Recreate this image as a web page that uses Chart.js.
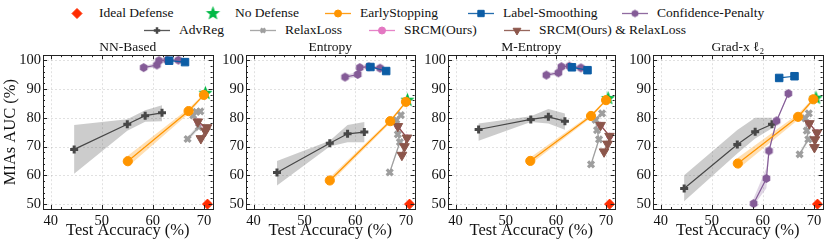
<!DOCTYPE html>
<html>
<head>
<meta charset="utf-8">
<script src="https://cdn.jsdelivr.net/npm/chart.js@4.4.0/dist/chart.umd.min.js"></script>
<style>
    body { margin: 0; background: #fff; width: 830px; height: 243px; position: relative; overflow: hidden;
           font-family: 'Liberation Serif', serif; }
    canvas.panel { position: absolute; top: 37px; }
    .lg { position: absolute; height: 16px; display: flex; align-items: center; font-size: 13.5px;
          white-space: nowrap; color: #111; }
    .lg canvas { margin-right: 9px; }
</style>
</head>
<body>
<div id="legend"></div>
<canvas class="panel" id="c0" width="220" height="206" style="left:0px"></canvas>
<canvas class="panel" id="c1" width="202" height="206" style="left:220px"></canvas>
<canvas class="panel" id="c2" width="200" height="206" style="left:422px"></canvas>
<canvas class="panel" id="c3" width="204" height="206" style="left:626px"></canvas>
<script>
// ---- data ----
const panelTitles = ['NN-Based', 'Entropy', 'M-Entropy', 'Grad-x ℓ₂'];
const xTicks = [40, 50, 60, 70];
const yTicks = [50, 60, 70, 80, 90, 100];

const idealAcc = [70.7];
const idealAuc = [50];

const noDefAcc = [70.3, 70.3, 70.4, 70.4];
const noDefAuc = [88.5, 86.1, 86.7, 86.8];

const esAcc = [[55.1, 67.0, 70.0], [55.0, 66.9, 70.0], [54.9, 67.0, 70.0], [55.1, 66.9, 69.9]];
const esAuc = [[64.9, 82.3, 87.9], [58.2, 78.8, 85.5], [65.0, 80.6, 86.1], [64.1, 80.3, 86.4]];
const esHi = [[66.8, 83.2, 88.3], [59.2, 79.4, 85.9], [66.2, 81.2, 86.5], [66.1, 81.3, 86.9]];
const esLo = [[63.0, 81.4, 87.5], [57.2, 78.2, 85.1], [63.8, 80.0, 85.7], [62.1, 79.3, 85.9]];

const lsAcc = [[63.2, 66.3], [63.0, 66.1], [63.2, 66.3], [63.2, 66.2]];
const lsAuc = [[99.8, 99.3], [97.6, 96.2], [97.5, 96.5], [93.8, 94.4]];

const cpAcc = [[58.2, 60.8, 61.2, 62.8, 65.0], [58.0, 60.5, 60.9, 62.7, 64.9],
               [58.1, 60.5, 61.1, 62.7, 65.0], [58.2, 60.7, 61.2, 62.7, 65.0]];
const cpAuc = [[97.4, 98.3, 99.8, 100.0, 100.0], [94.1, 95.0, 97.4, 97.7, 97.2],
               [94.8, 95.6, 97.7, 97.9, 97.3], [50.2, 58.9, 68.5, 78.9, 88.4]];
const cpHi = [[98.0, 99.0, 100.3, 100.4, 100.4], [94.9, 95.8, 97.9, 98.1, 97.6],
              [95.4, 96.3, 98.1, 98.3, 97.7], [52.0, 62.5, 69.5, 79.5, 88.9]];
const cpLo = [[96.8, 97.5, 99.3, 99.6, 99.6], [93.3, 94.2, 96.9, 97.3, 96.8],
              [94.2, 94.9, 97.3, 97.5, 96.9], [49.5, 55.5, 67.0, 78.3, 87.9]];

const advAcc = [44.6, 55.0, 58.5, 61.8];
const advAuc = [[69.0, 77.7, 80.7, 81.7], [61.0, 71.1, 74.4, 75.0], [75.9, 79.4, 80.3, 78.8], [55.4, 70.7, 75.1, 77.7]];
const advHi = [[77.5, 79.5, 82.6, 84.3], [65.0, 72.0, 77.5, 78.5], [78.0, 80.5, 83.0, 81.5], [60.0, 75.7, 80.0, 80.0]];
const advLo = [[60.5, 75.5, 78.6, 78.8], [56.5, 70.0, 71.5, 71.5], [72.0, 78.5, 78.0, 75.8], [51.0, 67.6, 72.8, 76.3]];

const rlAcc = [[66.8, 69.0, 67.9, 68.5, 69.3], [66.8, 68.8, 68.4, 68.1, 69.0],
               [67.0, 68.6, 68.2, 67.9, 69.2], [67.2, 68.9, 68.6, 68.3, 69.0]];
const rlAuc = [[72.6, 76.8, 80.8, 82.0, 82.2], [61.0, 71.5, 74.2, 79.2, 80.9],
               [63.8, 72.5, 75.7, 79.2, 81.5], [67.3, 72.5, 75.5, 79.8, 81.5]];

const srcmAcc = [[68.8, 70.4], [68.4, 70.2], [68.9, 70.7], [69.1, 70.6]];
const srcmAuc = [[78.6, 76.2], [77.0, 73.0], [77.4, 73.6], [78.0, 74.8]];

const srAcc = [[68.8, 70.6, 70.3, 69.4], [68.4, 70.2, 69.7, 69.2], [68.9, 70.7, 70.3, 69.6], [69.1, 70.6, 70.2, 70.1]];
const srAuc = [[78.6, 76.6, 75.4, 72.8], [77.0, 73.0, 70.0, 67.0], [77.4, 73.6, 70.9, 68.2], [78.0, 74.8, 72.4, 69.7]];

// ---- style ----
const FONT = "'Liberation Serif', serif";
const COL = {
    blue: '#0C5DA5', green: '#00B945', orange: '#FF9500', red: '#FF2C00', purple: '#845B97',
    dark: '#474747', gray: '#9e9e9e', pink: '#e377c2', brown: '#8c564b'
};
const yAxisWidth = [43, 26, 26, 27];
const rightPad = [3, 3, 2, 2];

function makeHexagon(color, r) {
    const c = document.createElement('canvas');
    const s = Math.ceil(r * 2 + 2);
    c.width = c.height = s;
    const g = c.getContext('2d');
    g.beginPath();
    for (let i = 0; i < 6; i++) {
        const a = -Math.PI / 2 + i * Math.PI / 3;
        g.lineTo(s / 2 + r * Math.cos(a), s / 2 + r * Math.sin(a));
    }
    g.closePath();
    g.fillStyle = color;
    g.fill();
    return c;
}

function makeStar(color, r1, r2) {
    const c = document.createElement('canvas');
    const s = Math.ceil(r1 * 2 + 2);
    c.width = c.height = s;
    const g = c.getContext('2d');
    g.beginPath();
    for (let i = 0; i < 10; i++) {
        const a = -Math.PI / 2 + i * Math.PI / 5;
        const r = i % 2 ? r2 : r1;
        g.lineTo(s / 2 + r * Math.cos(a), s / 2 + r * Math.sin(a));
    }
    g.closePath();
    g.fillStyle = color;
    g.fill();
    return c;
}

const hexMarker = makeHexagon(COL.purple, 4.4);
const starMarker = makeStar(COL.green, 7.5, 3.2);

const pts = (xs, ys) => xs.map((x, i) => ({ x: x, y: ys[i] }));

function band(xs, hi, lo, color) {
    const poly = pts(xs, hi).concat(pts(xs, lo).reverse());
    return { data: poly, borderWidth: 0, pointRadius: 0, fill: 'shape', backgroundColor: color, order: 50 };
}

function series(xs, ys, color, marker, extra) {
    return Object.assign({
        data: pts(xs, ys),
        borderColor: color,
        borderWidth: 1.2,
        backgroundColor: color,
        pointStyle: marker,
        pointRadius: 4.6,
        pointBackgroundColor: color,
        pointBorderColor: color,
        pointBorderWidth: 1,
        fill: false,
        tension: 0
    }, extra || {});
}

function panelDatasets(p) {
    return [
        band(advAcc, advHi[p], advLo[p], 'rgba(71,71,71,0.28)'),
        band(esAcc[p], esHi[p], esLo[p], 'rgba(255,149,0,0.3)'),
        band(cpAcc[p], cpHi[p], cpLo[p], 'rgba(132,91,151,0.25)'),
        band(rlAcc[p], rlAuc[p].map(v => v + 0.8), rlAuc[p].map(v => v - 0.8), 'rgba(158,158,158,0.3)'),
        series(advAcc, advAuc[p], COL.dark, 'cross', { pointRadius: 4, pointBorderWidth: 3, order: 9 }),
        series(cpAcc[p], cpAuc[p], COL.purple, hexMarker, { order: 8 }),
        series(lsAcc[p], lsAuc[p], COL.blue, 'rect', { pointRadius: 5.3, order: 7 }),
        series(idealAcc, idealAuc, COL.red, 'rectRot', { showLine: false, pointRadius: 5, order: 6 }),
        series(rlAcc[p], rlAuc[p], COL.gray, 'crossRot', { pointRadius: 4.2, pointBorderWidth: 3.2, order: 5 }),
        series(srcmAcc[p], srcmAuc[p], COL.pink, 'circle', { pointRadius: 3, order: 4 }),
        series(srAcc[p], srAuc[p], COL.brown, 'triangle', { pointRadius: 5.6, pointRotation: 180, order: 3 }),
        series([noDefAcc[p]], [noDefAuc[p]], COL.green, starMarker, { showLine: false, order: 2 }),
        series(esAcc[p], esAuc[p], COL.orange, 'circle', { pointRadius: 4.6, order: 1 })
    ];
}

// grid, frame and inward ticks
const framePlugin = {
    id: 'frame',
    beforeDatasetsDraw(chart) {
        const { ctx, chartArea: a, scales: { x, y } } = chart;
        ctx.save();
        ctx.strokeStyle = 'rgba(0,0,0,0.15)';
        ctx.lineWidth = 0.8;
        ctx.setLineDash([2, 2]);
        ctx.beginPath();
        xTicks.forEach(v => {
            const px = Math.round(x.getPixelForValue(v)) + 0.5;
            ctx.moveTo(px, a.top); ctx.lineTo(px, a.bottom);
        });
        yTicks.forEach(v => {
            const py = Math.round(y.getPixelForValue(v)) + 0.5;
            ctx.moveTo(a.left, py); ctx.lineTo(a.right, py);
        });
        ctx.stroke();
        ctx.restore();
    },
    afterDraw(chart) {
        const { ctx, chartArea: a, scales: { x, y } } = chart;
        ctx.save();
        ctx.strokeStyle = '#222';
        ctx.lineWidth = 1;
        ctx.beginPath();
        for (let v = 36; v <= 72; v += 2) {
            if (v < x.min || v > x.max) continue;
            const len = v % 10 === 0 ? 4 : 2;
            const px = Math.round(x.getPixelForValue(v)) + 0.5;
            ctx.moveTo(px, a.bottom); ctx.lineTo(px, a.bottom - len);
            ctx.moveTo(px, a.top); ctx.lineTo(px, a.top + len);
        }
        for (let v = 48; v <= 102; v += 2) {
            if (v < y.min || v > y.max) continue;
            const len = v % 10 === 0 ? 4 : 2;
            const py = Math.round(y.getPixelForValue(v)) + 0.5;
            ctx.moveTo(a.left, py); ctx.lineTo(a.left + len, py);
            ctx.moveTo(a.right, py); ctx.lineTo(a.right - len, py);
        }
        ctx.stroke();
        ctx.strokeRect(Math.round(a.left) + 0.5, Math.round(a.top) + 0.5,
                       Math.round(a.right - a.left), Math.round(a.bottom - a.top));
        ctx.restore();
    }
};

panelTitles.forEach((title, p) => {
    new Chart(document.getElementById('c' + p), {
        type: 'line',
        data: { datasets: panelDatasets(p) },
        options: {
            responsive: false,
            animation: false,
            events: [],
            layout: { padding: { top: 0, bottom: 0, left: 0, right: rightPad[p] } },
            plugins: {
                legend: { display: false },
                tooltip: { enabled: false },
                title: {
                    display: true, text: title, color: '#111', fullSize: false,
                    font: { family: FONT, size: 13.5, weight: 'normal' },
                    padding: { top: 2, bottom: 0 }
                }
            },
            scales: {
                x: {
                    type: 'linear', min: 38.5, max: 71.7,
                    afterBuildTicks: s => { s.ticks = xTicks.map(v => ({ value: v })); },
                    afterFit: s => { s.height = 34; },
                    ticks: { color: '#111', font: { family: FONT, size: 14.5 }, padding: 3, maxRotation: 0, autoSkip: false },
                    grid: { display: false, drawTicks: false },
                    border: { display: false },
                    title: {
                        display: true, text: 'Test Accuracy (%)', color: '#111',
                        font: { family: FONT, size: 16.5 }, padding: { top: 0, bottom: 2 }
                    }
                },
                y: {
                    type: 'linear', min: 48.3, max: 101.7,
                    afterBuildTicks: s => { s.ticks = yTicks.map(v => ({ value: v })); },
                    afterFit: s => { s.width = yAxisWidth[p]; },
                    ticks: { color: '#111', font: { family: FONT, size: 14.5 }, padding: 2, autoSkip: false },
                    grid: { display: false, drawTicks: false },
                    border: { display: false },
                    title: {
                        display: p === 0, text: 'MIAs AUC (%)', color: '#111',
                        font: { family: FONT, size: 16.5 }, padding: { top: 1, bottom: 0 }
                    }
                }
            }
        },
        plugins: [framePlugin]
    });
});

// ---- legend ----
const legendEntries = [
    { label: 'Ideal Defense', color: COL.red, style: 'rectRot', r: 5, line: false, left: 64, row: 0 },
    { label: 'No Defense', color: COL.green, style: starMarker, line: false, left: 200, row: 0 },
    { label: 'EarlyStopping', color: COL.orange, style: 'circle', r: 3.5, line: true, left: 325, row: 0 },
    { label: 'Label-Smoothing', color: COL.blue, style: 'rect', r: 4.5, line: true, left: 468, row: 0 },
    { label: 'Confidence-Penalty', color: COL.purple, style: makeHexagon(COL.purple, 3.8), line: true, left: 622, row: 0 },
    { label: 'AdvReg', color: COL.dark, style: 'cross', r: 3.2, bw: 2.5, line: true, left: 144, row: 1 },
    { label: 'RelaxLoss', color: COL.gray, style: 'crossRot', r: 3, bw: 2.5, line: true, left: 250, row: 1 },
    { label: 'SRCM(Ours)', color: COL.pink, style: 'circle', r: 3.5, line: true, left: 369, row: 1 },
    { label: 'SRCM(Ours) & RelaxLoss', color: COL.brown, style: 'triangle', r: 4.5, rot: 180, line: true, left: 504, row: 1 }
];
const legendRowTop = [5, 22];

const legendBox = document.getElementById('legend');
legendEntries.forEach(e => {
    const item = document.createElement('div');
    item.className = 'lg';
    item.style.left = e.left + 'px';
    item.style.top = legendRowTop[e.row] + 'px';
    const c = document.createElement('canvas');
    c.width = 26; c.height = 16;
    const g = c.getContext('2d');
    if (e.line) {
        g.strokeStyle = e.color; g.globalAlpha = 0.9; g.lineWidth = 1.3;
        g.beginPath(); g.moveTo(0, 8.5); g.lineTo(26, 8.5); g.stroke();
        g.globalAlpha = 1;
    }
    g.fillStyle = e.color; g.strokeStyle = e.color;
    if (typeof e.style === 'string') {
        g.lineWidth = e.bw || 1;
        Chart.helpers.drawPoint(g, { pointStyle: e.style, radius: e.r, rotation: e.rot || 0, borderWidth: e.bw || 1 }, 13, 8.5);
    } else {
        g.drawImage(e.style, 13 - e.style.width / 2, 8.5 - e.style.height / 2);
    }
    item.appendChild(c);
    const t = document.createElement('span');
    t.textContent = e.label;
    item.appendChild(t);
    legendBox.appendChild(item);
});
</script>
</body>
</html>
